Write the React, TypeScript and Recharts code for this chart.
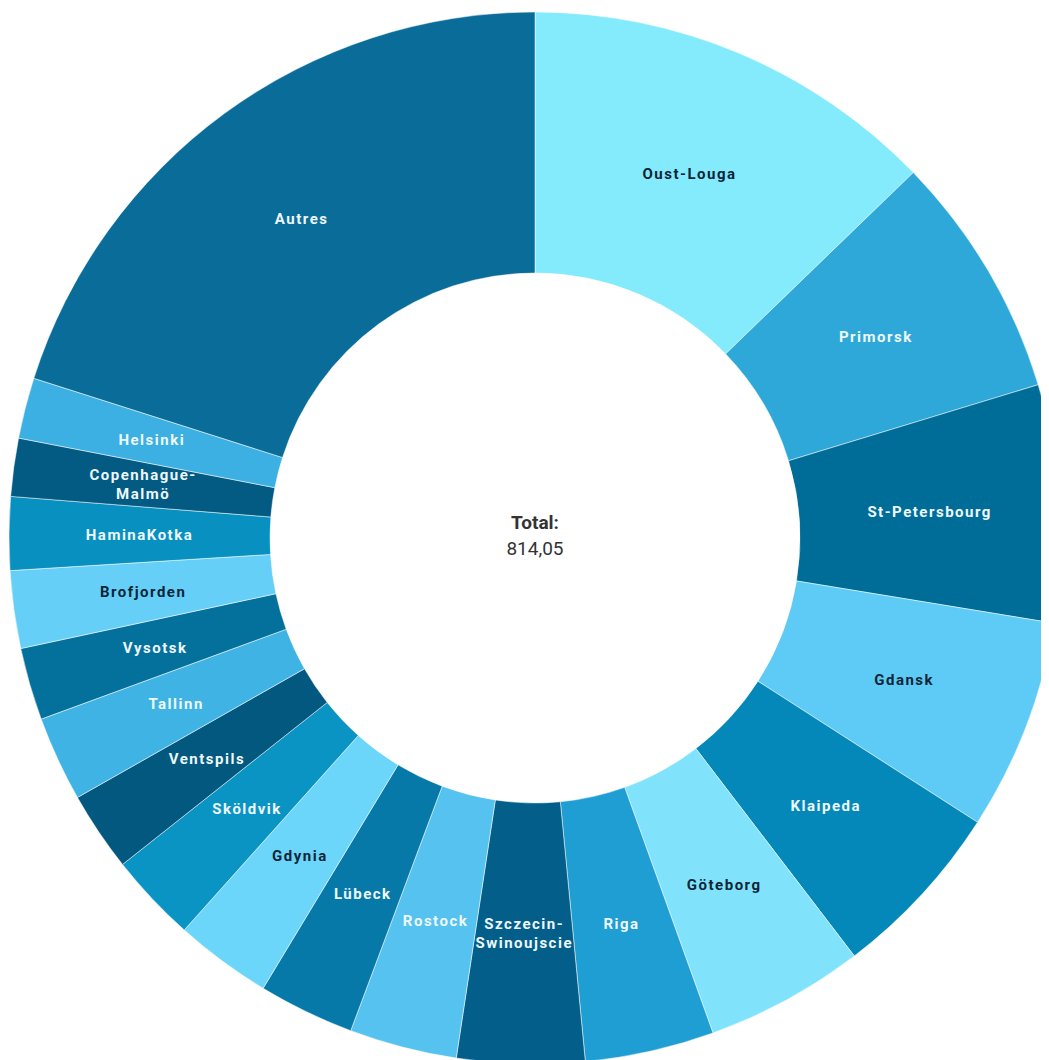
import React from 'react';
import { PieChart, Pie, Cell } from 'recharts';

const ports = [
    'Oust-Louga',
    'Primorsk',
    'St-Petersbourg',
    'Gdansk',
    'Klaipeda',
    'Göteborg',
    'Riga',
    'Szczecin-\nSwinoujscie',
    'Rostock',
    'Lübeck',
    'Gdynia',
    'Sköldvik',
    'Ventspils',
    'Tallinn',
    'Vysotsk',
    'Brofjorden',
    'HaminaKotka',
    'Copenhague-\nMalmö',
    'Helsinki',
    'Autres',
];

const volumes = [
    104.0, 61.2, 59.4, 52.9, 45.0, 39.8, 32.3, 31.9, 26.9, 24.0,
    24.2, 22.2, 19.9, 21.3, 18.1, 19.4, 18.3, 14.5, 15.2, 163.55,
];

const sliceColors = [
    '#84ebfc', '#2ea8d8', '#006d99', '#5ecbf6', '#0388b9',
    '#80e3fb', '#1e9ed2', '#035f8a', '#55c2ef', '#0679a8',
    '#6cd6fa', '#0994c4', '#03587f', '#3fb3e4', '#04709c',
    '#66cff8', '#0790c0', '#035a82', '#3cb0e2', '#0a6c98',
];

// labels drawn dark on the pale slices
const darkLabels = ['Oust-Louga', 'Gdansk', 'Göteborg', 'Gdynia', 'Brofjorden'];

const totalLabel = '814,05';

const data = ports.map((name, i) => ({ name, value: volumes[i] }));

const RADIAN = Math.PI / 180;

const renderLabel = (props: any) => {
    const { cx, cy, midAngle, innerRadius, outerRadius, index } = props;
    const name = ports[index];
    const r = innerRadius + (outerRadius - innerRadius) / 2;
    const x = cx + r * Math.cos(-midAngle * RADIAN);
    const y = cy + r * Math.sin(-midAngle * RADIAN);
    const lines = name.split('\n');
    const fill = darkLabels.includes(name) ? '#0b2638' : '#eef8fc';
    const lineH = 19;
    const y0 = y - ((lines.length - 1) * lineH) / 2;
    return (
        <text
            x={x}
            y={y0}
            fill={fill}
            textAnchor="middle"
            dominantBaseline="central"
            fontFamily="Roboto, sans-serif"
            fontWeight="bold"
            fontSize={15}
            letterSpacing={1.5}
        >
            {lines.map((l: string, i: number) => (
                <tspan key={i} x={x} y={y0 + i * lineH}>
                    {l}
                </tspan>
            ))}
        </text>
    );
};

export default function App() {
    return (
        <div style={{ position: 'relative', width: 1041, height: 1052 }}>
            <PieChart width={1041} height={1052}>
                <Pie
                    data={data}
                    dataKey="value"
                    nameKey="name"
                    cx={522}
                    cy={525}
                    innerRadius={265}
                    outerRadius={526}
                    startAngle={90}
                    endAngle={-270}
                    stroke="#ffffff"
                    strokeWidth={0.5}
                    label={renderLabel}
                    labelLine={false}
                    isAnimationActive={false}
                >
                    {data.map((d, i) => (
                        <Cell key={d.name} fill={sliceColors[i]} />
                    ))}
                </Pie>
            </PieChart>
            <div
                style={{
                    position: 'absolute',
                    left: 427,
                    top: 502,
                    width: 200,
                    textAlign: 'center',
                    fontFamily: 'Roboto, sans-serif',
                    fontSize: 19,
                    lineHeight: '26px',
                    color: '#333333',
                }}
            >
                <div style={{ fontWeight: 'bold' }}>Total:</div>
                <div>{totalLabel}</div>
            </div>
        </div>
    );
}
